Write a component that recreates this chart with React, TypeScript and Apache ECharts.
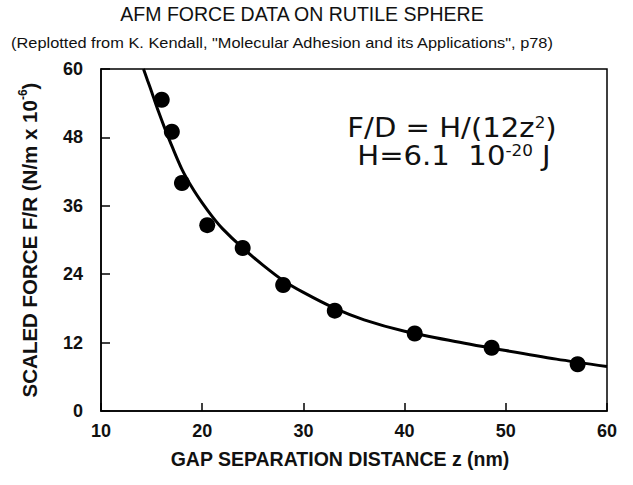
import { useEffect, useRef } from 'react';
import * as echarts from 'echarts';

const titleText = 'AFM FORCE DATA ON RUTILE SPHERE';
const subtitleText = '(Replotted from K. Kendall, "Molecular Adhesion and its Applications", p78)';
const xAxisName = 'GAP SEPARATION DISTANCE z (nm)';

// measured points
const gapNm = [16.0, 17.0, 18.0, 20.5, 24.0, 28.0, 33.1, 41.0, 48.6, 57.1];
const forceValues = [54.6, 49.0, 40.0, 32.6, 28.6, 22.1, 17.6, 13.6, 11.1, 8.2];

// fitted curve
const fitGap = [14.2, 14.6, 15.0, 15.5, 16.0, 16.5, 17.0, 18.0, 19.0, 20.0, 21.0, 22.0, 24.0, 26.0, 28.0, 30.0, 33.0, 36.0, 40.0, 45.0, 50.0, 55.0, 60.0];
const fitForce = [60.0, 58.0, 56.0, 53.4, 51.0, 48.7, 46.5, 42.4, 39.2, 36.5, 34.1, 32.0, 28.6, 25.6, 22.9, 20.8, 18.1, 16.0, 14.0, 12.2, 10.6, 9.1, 7.8];

const xMin = 10, xMax = 60, xStep = 10;
const yMin = 0, yMax = 60, yStep = 12;

export default function App() {
  const ref = useRef<HTMLDivElement>(null);
  useEffect(() => {
    if (!ref.current) return;
    const chart = echarts.init(ref.current, undefined, { renderer: 'svg' });
    const boldFont = '"Liberation Sans", Arial, sans-serif';
    const eqFont = '"DejaVu Sans", Verdana, sans-serif';
    chart.setOption({
      animation: false,
      backgroundColor: '#fff',
      grid: {
        left: 101, right: 26, top: 69, bottom: 74,
        show: true, borderColor: '#000', borderWidth: 1.5, backgroundColor: 'transparent',
      },
      graphic: [
        {
          type: 'text', x: 302, y: 4,
          style: { text: titleText, fill: '#111', font: '19.5px "Liberation Sans", Arial, sans-serif', textAlign: 'center' },
        },
        {
          type: 'text', x: 282, y: 36, scaleX: 1.17,
          style: { text: subtitleText, fill: '#111', font: '14px "Liberation Sans", Arial, sans-serif', textAlign: 'center' },
        },
        {
          type: 'text', x: 340, y: 449,
          style: { text: xAxisName, fill: '#111', font: 'bold 19.5px "Liberation Sans", Arial, sans-serif', textAlign: 'center' },
        },
        {
          type: 'text', x: 452, y: 115, scaleX: 1.12,
          style: {
            text: '{a|F/D = H/(12z}{s|2}{a|)}',
            textAlign: 'center',
            rich: {
              a: { fontFamily: eqFont, fontSize: 26, fill: '#111' },
              s: { fontFamily: eqFont, fontSize: 15, fill: '#111', padding: [0, 0, 12, 0] },
            },
          },
        },
        {
          type: 'text', x: 454, y: 143, scaleX: 1.12,
          style: {
            text: '{a|H=6.1  10}{s|-20}{a| J}',
            textAlign: 'center',
            rich: {
              a: { fontFamily: eqFont, fontSize: 26, fill: '#111' },
              s: { fontFamily: eqFont, fontSize: 15, fill: '#111', padding: [0, 0, 12, 0] },
            },
          },
        },
      ],
      xAxis: {
        type: 'value', min: xMin, max: xMax, interval: xStep,
        axisLine: { lineStyle: { color: '#000', width: 1.5 } },
        axisTick: { inside: true, length: 8, lineStyle: { color: '#000', width: 1.5 } },
        axisLabel: { fontFamily: boldFont, fontWeight: 'bold', fontSize: 18, color: '#111', margin: 11 },
        splitLine: { show: false },
      },
      yAxis: {
        type: 'value', min: yMin, max: yMax, interval: yStep,
        name: '{a|SCALED FORCE F/R (N/m x 10}{s|-6}{a|)}', nameLocation: 'middle', nameGap: 60, nameRotate: 90,
        nameTextStyle: {
          rich: {
            a: { fontFamily: boldFont, fontWeight: 'bold', fontSize: 20.5, color: '#111' },
            s: { fontFamily: boldFont, fontWeight: 'bold', fontSize: 12, color: '#111', padding: [0, 0, 12, 0] },
          },
        },
        axisLine: { lineStyle: { color: '#000', width: 1.5 } },
        axisTick: { inside: true, length: 9, lineStyle: { color: '#000', width: 1.5 } },
        axisLabel: { fontFamily: boldFont, fontWeight: 'bold', fontSize: 18, color: '#111', margin: 18 },
        splitLine: { show: false },
      },
      series: [
        {
          type: 'line',
          data: fitGap.map((x, i) => [x, fitForce[i]]),
          smooth: 0.3,
          showSymbol: false,
          clip: true,
          lineStyle: { color: '#000', width: 3 },
          z: 2,
        },
        {
          type: 'scatter',
          data: gapNm.map((x, i) => [x, forceValues[i]]),
          symbol: 'circle',
          symbolSize: 16,
          itemStyle: { color: '#000', opacity: 1 },
          z: 3,
        },
      ],
    });
    return () => chart.dispose();
  }, []);
  return <div ref={ref} style={{ position: 'fixed', left: 0, top: 0, width: 633, height: 485 }} />;
}
